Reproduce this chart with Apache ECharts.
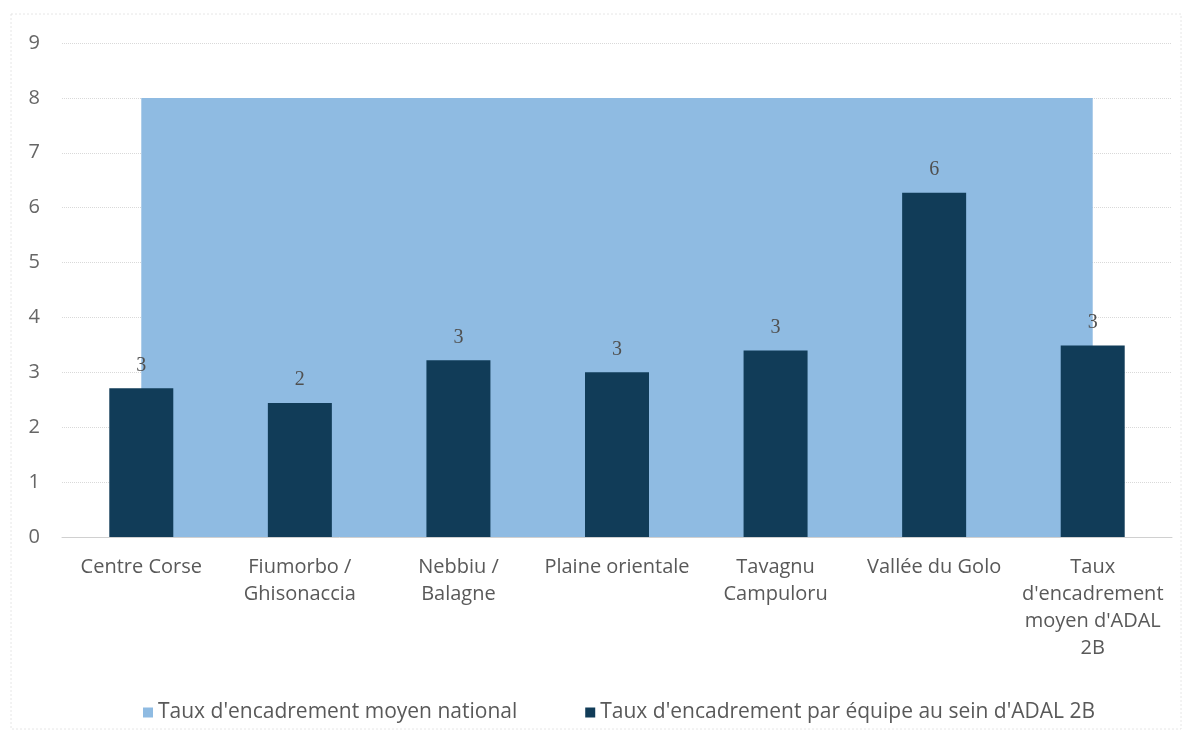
<!DOCTYPE html>
<html>
<head>
<meta charset="utf-8">
<script src="https://cdn.jsdelivr.net/npm/echarts@6/dist/echarts.min.js"></script>
<style>
html,body{margin:0;padding:0;background:#fff;}
#c{width:1192px;height:739px;}
</style>
</head>
<body>
<div id="c"></div>
<script>
var categories = ["Centre Corse", "Fiumorbo /\nGhisonaccia", "Nebbiu /\nBalagne", "Plaine orientale", "Tavagnu\nCampuloru", "Vallée du Golo", "Taux\nd'encadrement\nmoyen d'ADAL\n2B"];
var nationalValues = [8, 8, 8, 8, 8, 8, 8];
var teamValues = [2.71, 2.44, 3.22, 3.0, 3.4, 6.27, 3.49];
var seriesNames = ["Taux d'encadrement moyen national", "Taux d'encadrement par équipe au sein d'ADAL 2B"];

var chart = echarts.init(document.getElementById('c'));
chart.setOption({
  animation: false,
  backgroundColor: '#ffffff',
  textStyle: { fontFamily: 'Open Sans' },
  graphic: [{
    type: 'rect',
    shape: { x: 11, y: 14, width: 1170, height: 715 },
    style: { fill: 'none', stroke: '#e6e6e6', lineWidth: 1, lineDash: [2, 2] },
    silent: true
  }],
  grid: { left: 62, right: 20, top: 43, bottom: 202 },
  legend: {
    bottom: 11,
    left: 138,
    itemGap: 68,
    itemWidth: 10,
    itemHeight: 10,
    icon: 'rect',
    textStyle: { fontSize: 21, color: '#595959', fontFamily: 'Open Sans' },
    data: seriesNames
  },
  xAxis: {
    type: 'category',
    data: categories,
    boundaryGap: true,
    axisLine: { show: true, lineStyle: { color: '#d0d0d0' } },
    axisTick: { show: false },
    axisLabel: { color: '#595959', fontSize: 20, lineHeight: 27, margin: 17, interval: 0, fontFamily: 'Open Sans' }
  },
  yAxis: {
    type: 'value',
    min: 0, max: 9, interval: 1,
    axisLine: { show: false },
    axisTick: { show: false },
    axisLabel: { color: '#666666', fontSize: 20, margin: 22, fontFamily: 'Open Sans' },
    splitLine: { lineStyle: { color: '#d9d9d9', type: 'dotted' } }
  },
  series: [
    {
      name: seriesNames[0],
      type: 'line',
      z: 1,
      data: nationalValues,
      symbol: 'none',
      lineStyle: { width: 0, color: '#8fbbe2' },
      itemStyle: { color: '#8fbbe2' },
      areaStyle: { color: '#8fbbe2', opacity: 1 }
    },
    {
      name: seriesNames[1],
      type: 'bar',
      z: 5,
      data: teamValues,
      barWidth: 64,
      itemStyle: { color: '#113c58' },
      label: {
        show: true,
        position: 'top',
        distance: 13,
        color: '#505050',
        fontSize: 20,
        fontFamily: 'Liberation Serif',
        formatter: function (p) { return Math.round(p.value); }
      }
    }
  ]
});
</script>
</body>
</html>
